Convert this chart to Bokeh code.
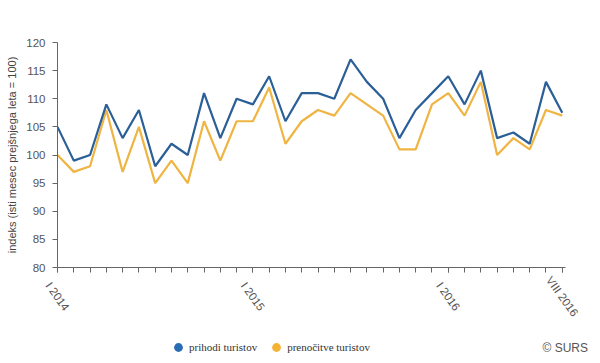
import numpy as np
from bokeh.plotting import figure
from bokeh.layouts import column
from bokeh.core.properties import value
from bokeh.models import (Range1d, FixedTicker, Legend, LegendItem, Label, LabelSet,
                          ColumnDataSource)
from bokeh.embed import file_html
from bokeh.resources import INLINE

months = list(range(32))
tick_positions = [0, 12, 24, 31]
tick_labels = ["I 2014", "I 2015", "I 2016", "VIII 2016"]
prihodi = [105, 99, 100, 109, 103, 108, 98, 102, 100, 111, 103, 110,
           109, 114, 106, 111, 111, 110, 117, 113, 110, 103, 108, 111,
           114, 109, 115, 103, 104, 102, 113, 107.5]
prenocitve = [100, 97, 98, 108, 97, 105, 95, 99, 95, 106, 99, 106,
              106, 112, 102, 106, 108, 107, 111, 109, 107, 101, 101, 109,
              111, 107, 113, 100, 103, 101, 108, 107]
series_names = ["prihodi turistov", "prenočitve turistov"]
line_colors = ["#2b5f97", "#efb441"]
marker_colors = ["#2a6cb3", "#f6b232"]

axis_col = "#666666"
lab_col = "#555555"
font = "Liberation Sans"

# ---- layout constants (pixels) ----
W = 596
BL, BR, BT, BB = 57, 31, 42, 6
FRAME_H = 225
H1 = BT + FRAME_H + BB
H2 = 86
X_END = 31.2
k = (W - BL - BR) / X_END  # px per month

p = figure(width=W, height=H1, output_backend="svg", toolbar_location=None,
           x_range=Range1d(0, X_END), y_range=Range1d(80, 120),
           min_border_left=BL, min_border_right=BR, min_border_top=BT,
           min_border_bottom=BB)
p.frame_align = False
p.outline_line_color = None
p.xgrid.visible = False
p.ygrid.visible = False

src = ColumnDataSource(dict(x=months, a=prihodi, b=prenocitve))
p.line("x", "b", source=src, line_color=line_colors[1], line_width=2.2)
p.line("x", "a", source=src, line_color=line_colors[0], line_width=2.2)

# y axis
ya = p.yaxis[0]
ya.ticker = FixedTicker(ticks=list(range(80, 121, 5)))
ya.minor_tick_line_color = None
ya.major_tick_in = 0
ya.major_tick_out = 5
ya.axis_line_color = axis_col
ya.major_tick_line_color = axis_col
ya.major_label_text_color = lab_col
ya.major_label_text_font = font
ya.major_label_text_font_size = "11.5px"
ya.major_label_standoff = 7
ya.axis_label = "indeks (isti mesec prejšnjega leta = 100)"
ya.axis_label_text_font = font
ya.axis_label_text_font_size = "11px"
ya.axis_label_text_font_style = "normal"
ya.axis_label_text_color = "#444444"
ya.axis_label_standoff = 5

# x axis: ticks only, labels drawn in the strip below
xa = p.xaxis[0]
xa.ticker = FixedTicker(ticks=tick_positions, minor_ticks=months)
xa.major_label_overrides = {t: "" for t in tick_positions}
xa.major_label_text_font_size = "0px"
xa.major_label_standoff = 0
xa.major_tick_in = 0
xa.major_tick_out = 5
xa.minor_tick_in = 0
xa.minor_tick_out = 5
xa.axis_line_color = axis_col
xa.major_tick_line_color = axis_col
xa.minor_tick_line_color = axis_col

# ---- lower strip: month labels, legend, credit ----
x0 = -BL / k
q = figure(width=W, height=H2, output_backend="svg", toolbar_location=None,
           x_range=Range1d(x0, x0 + W / k), y_range=Range1d(H2, 0),
           min_border_left=0, min_border_right=0, min_border_top=0,
           min_border_bottom=0)
q.frame_align = False
q.axis.visible = False
q.grid.visible = False
q.outline_line_color = None

lab_src = ColumnDataSource(dict(x=tick_positions, text=tick_labels))
q.add_layout(LabelSet(x="x", y=23, text="text", source=lab_src,
                      angle=-0.95, text_align="center", text_baseline="middle",
                      text_font=value(font), text_font_size=value("11.5px"),
                      text_color=lab_col))

m1 = q.scatter(x=[np.nan], y=[np.nan], size=9, marker="circle",
               fill_color=marker_colors[0], line_color=None)
m2 = q.scatter(x=[np.nan], y=[np.nan], size=9, marker="circle",
               fill_color=marker_colors[1], line_color=None)
legend = Legend(items=[LegendItem(label=series_names[0], renderers=[m1]),
                       LegendItem(label=series_names[1], renderers=[m2])],
                orientation="horizontal", location=(167, 1),
                background_fill_alpha=0, border_line_color=None,
                label_text_font="Liberation Sans Narrow", label_text_font_size="11px",
                label_text_color="#333333", glyph_width=22, glyph_height=22,
                spacing=8, label_standoff=0, padding=0, margin=0)
q.add_layout(legend, "center")

q.add_layout(Label(x=542, y=12, x_units="screen", y_units="screen",
                   text="© SURS", text_font=font, text_font_size="12px",
                   text_baseline="middle", text_color=lab_col))

layout = column(p, q, spacing=0)
open("out.html", "w").write(file_html(layout, INLINE))
